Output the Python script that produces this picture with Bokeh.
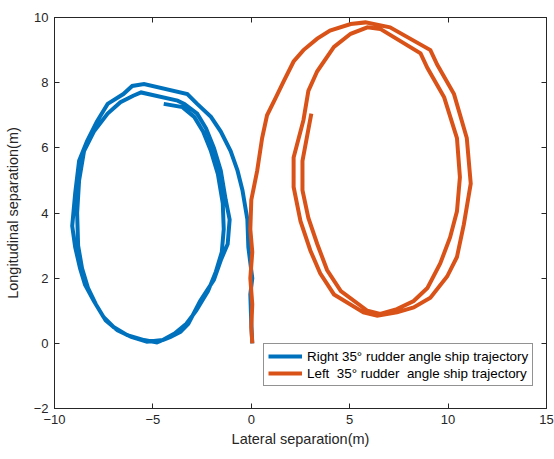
from bokeh.plotting import figure
from bokeh.models import LinearAxis, Legend, LegendItem, Range1d, FixedTicker
from bokeh.embed import file_html
from bokeh.resources import INLINE

# Right 35 deg rudder trajectory (blue)
right_x = [0.05, 0.0, -0.05, 0.05, -0.15, -0.2, -0.45, -0.7, -1.05, -1.55, -2.05, -2.75, -3.25,
           -5.45, -6.05, -6.5, -7.3, -7.85, -8.35, -8.75, -8.95, -9.1, -8.95, -8.7, -8.45, -8.0,
           -7.5, -7.0, -6.3, -5.45, -4.8, -4.1, -3.6, -3.2, -2.6, -1.9, -1.55, -1.2, -1.1, -1.3,
           -1.55, -1.9, -2.3, -2.75, -3.4, -3.75, -5.6, -6.0, -6.65, -7.3, -8.0, -8.5, -8.75,
           -8.85, -8.8, -8.6, -8.3, -7.9, -7.4, -6.8, -6.1, -5.3, -4.5, -3.9, -3.3, -2.8, -2.2,
           -1.8, -1.5, -1.4, -1.45, -1.7, -2.05, -2.45, -2.9, -3.5, -4.45]
right_y = [0.0, 0.6, 1.5, 2.0, 2.95, 3.8, 4.7, 5.3, 5.9, 6.5, 6.95, 7.35, 7.65,
           7.96, 7.9, 7.65, 7.35, 6.8, 6.2, 5.6, 4.6, 3.6, 2.95, 2.3, 1.8, 1.3,
           0.8, 0.5, 0.25, 0.1, 0.03, 0.2, 0.35, 0.6, 1.3, 1.95, 2.55, 3.05, 3.8, 4.4,
           5.3, 6.0, 6.6, 7.05, 7.35, 7.45, 7.7, 7.6, 7.4, 7.05, 6.5, 5.9, 5.0,
           4.0, 3.0, 2.3, 1.7, 1.2, 0.7, 0.4, 0.2, 0.05, 0.1, 0.3, 0.6, 1.0, 1.6,
           2.2, 2.8, 3.5, 4.3, 5.2, 5.9, 6.5, 6.95, 7.25, 7.35]

# Left 35 deg rudder trajectory (orange)
left_x = [0.05, 0.0, 0.05, -0.05, 0.05, -0.05, 0.0, 0.3, 0.55, 0.8, 1.25, 1.65, 2.15, 2.65,
          3.35, 4.0, 5.05, 5.8, 7.05, 9.1, 9.45, 10.3, 10.95, 11.15, 10.8, 10.45, 9.95, 9.1,
          8.25, 7.4, 6.4, 5.7, 4.2, 3.5, 3.0, 2.5, 2.15, 2.15, 2.65, 2.9, 3.35, 4.2, 5.05,
          5.9, 6.55, 8.6, 8.95, 9.8, 10.45, 10.6, 10.45, 10.1, 9.6, 8.95, 8.25, 7.4, 6.55,
          5.9, 4.55, 3.85, 3.35, 2.9, 2.6, 2.6, 3.05]
left_y = [0.0, 0.5, 1.2, 2.0, 2.8, 3.5, 4.4, 5.3, 6.3, 7.0, 7.55, 8.05, 8.65, 9.0,
          9.35, 9.6, 9.8, 9.85, 9.7, 9.0, 8.55, 7.65, 6.3, 4.9, 3.65, 2.65, 2.05, 1.4,
          1.1, 0.95, 0.85, 0.95, 1.5, 2.15, 2.85, 3.75, 4.8, 5.7, 6.85, 7.75, 8.35, 9.1, 9.5,
          9.7, 9.65, 8.9, 8.45, 7.55, 6.3, 5.1, 4.05, 3.25, 2.45, 1.7, 1.3, 1.05, 0.9,
          1.0, 1.6, 2.25, 3.05, 3.85, 4.7, 5.6, 7.05]

x_ticks = [-10, -5, 0, 5, 10, 15]
y_ticks = [-2, 0, 2, 4, 6, 8, 10]
legend_labels = ["Right 35° rudder angle ship trajectory",
                 "Left\u00a0 35° rudder\u00a0 angle ship trajectory"]

AX = "#262626"
FONT = "Liberation Sans"

p = figure(width=554, height=459, output_backend="svg", toolbar_location=None,
           x_range=Range1d(-10, 15), y_range=Range1d(-2, 10),
           min_border_left=54, min_border_right=8, min_border_top=17, min_border_bottom=51,
           x_axis_label="Lateral separation(m)", y_axis_label="Longitudinal separation(m)")
p.grid.visible = False
p.outline_line_color = AX
p.outline_line_width = 1

r1 = p.line(right_x, right_y, line_color="#0072BD", line_width=4, line_join="miter")
r2 = p.line(left_x, left_y, line_color="#D95319", line_width=4, line_join="miter")

for ax in [p.xaxis[0], p.yaxis[0]]:
    ax.axis_line_color = AX
    ax.major_tick_line_color = AX
    ax.major_tick_in = 5
    ax.major_tick_out = 0
    ax.minor_tick_line_color = None
    ax.major_label_text_color = AX
    ax.major_label_text_font = FONT
    ax.major_label_text_font_size = "13px"
    ax.axis_label_text_color = AX
    ax.axis_label_text_font = FONT
    ax.axis_label_text_font_size = "14.5px"
    ax.axis_label_text_font_style = "normal"
p.xaxis[0].ticker = FixedTicker(ticks=x_ticks)
p.yaxis[0].ticker = FixedTicker(ticks=y_ticks)
p.xaxis[0].major_label_standoff = 6
p.xaxis[0].axis_label_standoff = 4
p.yaxis[0].major_label_standoff = 6
p.yaxis[0].axis_label_standoff = 10

for loc, ticks in [("above", x_ticks), ("right", y_ticks)]:
    a = LinearAxis(ticker=FixedTicker(ticks=ticks), major_label_text_font_size="1px",
                   major_label_text_color=None, major_label_standoff=0,
                   axis_line_color=AX, major_tick_line_color=AX,
                   major_tick_in=5, major_tick_out=0, minor_tick_line_color=None)
    p.add_layout(a, loc)

legend = Legend(items=[LegendItem(label=legend_labels[0], renderers=[r1]),
                       LegendItem(label=legend_labels[1], renderers=[r2])],
                location=(209, 22), border_line_color=AX, border_line_width=1,
                label_text_font=FONT, label_text_font_size="13.4px", label_text_color="#000000",
                glyph_width=34, glyph_height=16, label_standoff=5, padding=4, spacing=1,
                label_height=16, margin=0, background_fill_alpha=1)
p.add_layout(legend, "center")

open("out.html", "w").write(file_html(p, INLINE))
